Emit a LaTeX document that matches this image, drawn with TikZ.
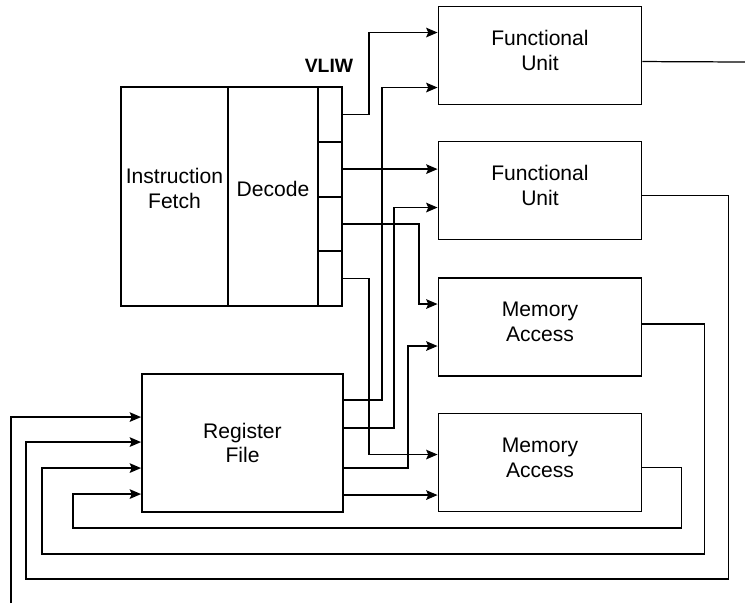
\documentclass[tikz,border=0pt]{standalone}
\usepackage{fontspec}
\setmainfont{Liberation Sans}
\usetikzlibrary{arrows.meta,calc}

\tikzset{
  unit/.style={draw=black, line width=1.1pt, inner sep=0pt, align=center,
    font=\fontsize{12}{14}\selectfont},
  exunit/.style={unit, minimum width=4.06cm, minimum height=1.96cm, text depth=0.2cm},
  slot/.style={draw=black, line width=1.1pt, inner sep=0pt, minimum width=0.48cm, minimum height=1.095cm},
  wire/.style={line width=0.7pt},
  arr/.style={wire, -{Stealth[length=6.5pt,width=5.5pt,inset=1.2pt]}},
}

\begin{document}
\begin{tikzpicture}[x=0.02cm, y=-0.02cm]
    \useasboundingbox (0,0) rectangle (745,603);
    % front end
    \node[unit, minimum width=2.14cm, minimum height=4.38cm, text depth=0.32cm] (IF) at (174.5,196.5) {Instruction\\Fetch};
    \node[unit, minimum width=1.8cm, minimum height=4.38cm, text depth=0.32cm] (DEC) at (273,196.5) {Decode};
    \node[slot] (C1) at (330,114.4) {};
    \node[slot] (C2) at (330,169.1) {};
    \node[slot] (C3) at (330,223.9) {};
    \node[slot] (C4) at (330,278.6) {};
    \node[font=\fontsize{11}{13}\selectfont\bfseries, anchor=base] (VLIW) at (329,72) {VLIW};
    % execution units
    \node[exunit] (FU1) at (540,55.5) {Functional\\Unit};
    \node[exunit] (FU2) at (540,190.5) {Functional\\Unit};
    \node[exunit] (MA1) at (540,327) {Memory\\Access};
    \node[exunit] (MA2) at (540,462.5) {Memory\\Access};
    \node[unit, minimum width=4.02cm, minimum height=2.76cm] (RF) at (242.5,443) {Register\\File};
    \coordinate (exitR) at (745,62);
    \coordinate (entryB) at (11,603);
    % issue slots and operands
    \draw[arr] (C1.east) -- ++(26,0) |- ($(FU1.north west)+(0,27)$);
    \draw[arr] ($(RF.north east)+(0,27)$) -- ++(38,0) |- ($(FU1.north west)+(0,82)$);
    \draw[arr] (C2.east) -- (C2.east -| FU2.west);
    \draw[arr] ($(RF.north east)+(0,55)$) -- ++(50,0) |- ($(FU2.north west)+(0,67)$);
    \draw[arr] (C3.east) -- ++(76,0) |- ($(MA1.north west)+(0,27)$);
    \draw[arr] (C4.east) -- ++(26,0) |- ($(MA2.north west)+(0,42)$);
    \draw[arr] ($(RF.north east)+(0,95)$) -- ++(64,0) |- ($(MA1.north west)+(0,69)$);
    \draw[arr] ($(RF.north east)+(0,122)$) coordinate (RF4) -- (RF4 -| MA2.west);
    % results back to the register file
    \draw[wire] ($(FU1.north east)+(0,56)$) -- (exitR);
    \draw[arr] ($(FU2.north east)+(0,55)$) -- ++(86,0) |- (26,579) |- ($(RF.north west)+(0,69)$);
    \draw[arr] ($(MA1.north east)+(0,47)$) -- ++(62,0) |- (42,554) |- ($(RF.north west)+(0,95)$);
    \draw[arr] ($(MA2.north east)+(0,55)$) -- ++(39,0) |- (73,528) |- ($(RF.north west)+(0,121)$);
    \draw[arr] (entryB) |- ($(RF.north west)+(0,44)$);
\end{tikzpicture}
\end{document}
